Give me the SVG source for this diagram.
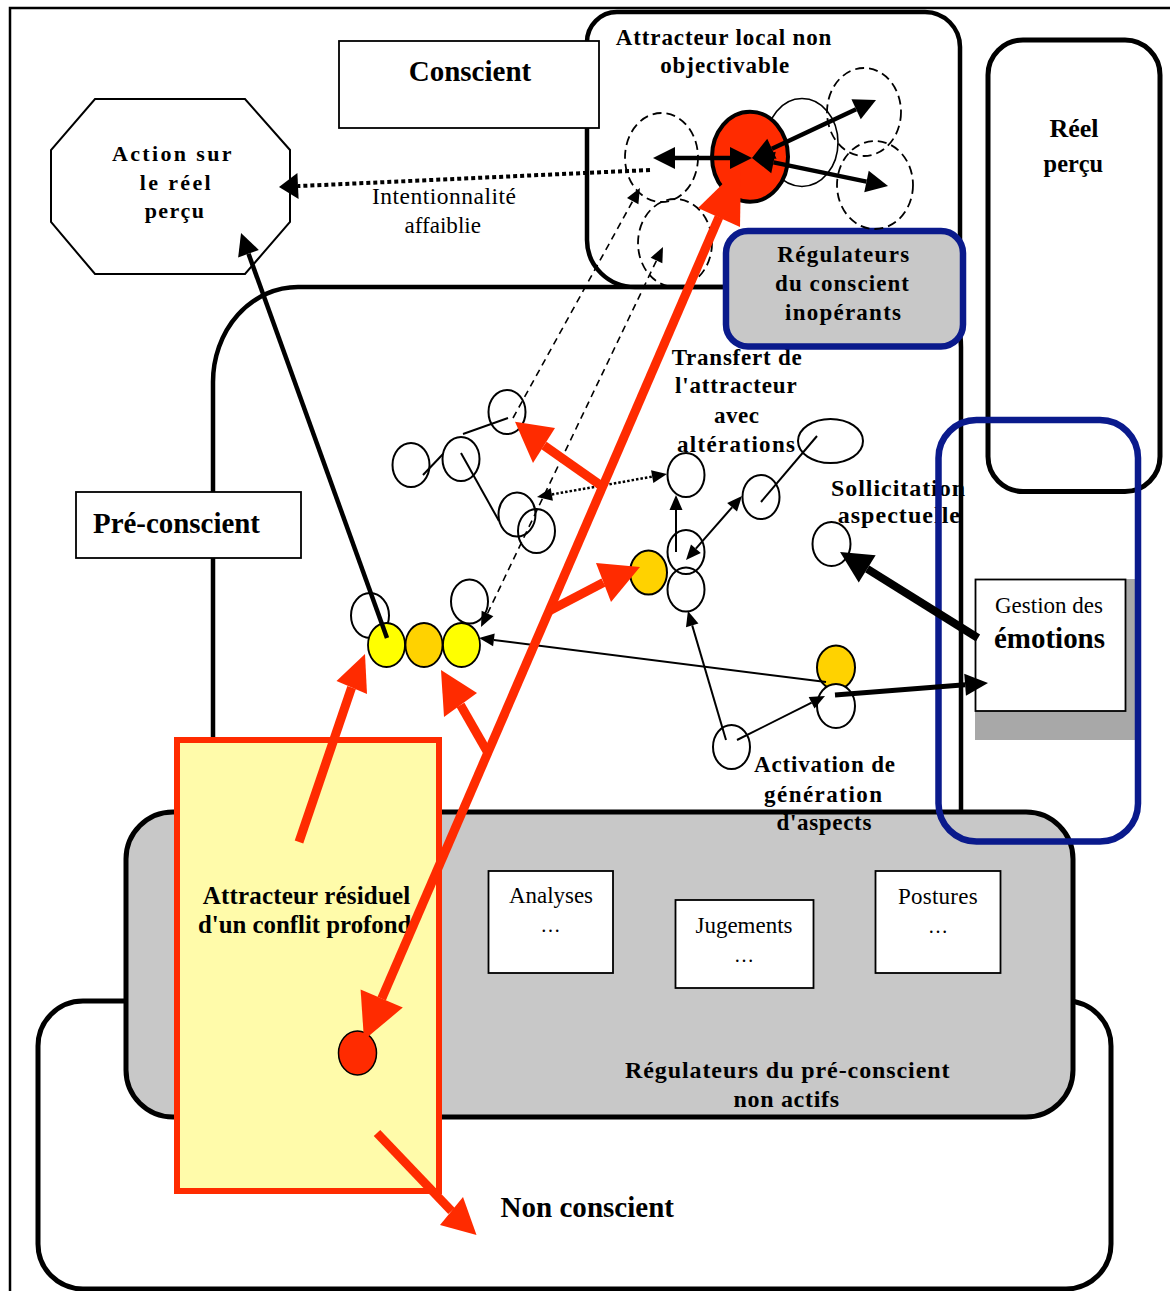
<svg xmlns="http://www.w3.org/2000/svg" width="1170" height="1291" viewBox="0 0 1170 1291">
<style>
  .frame{fill:none;stroke:#000;stroke-width:2.5}
  .zone{fill:none;stroke:#000;stroke-width:4.5}
  .box{fill:#fff;stroke:#000;stroke-width:1.8}
  .c{fill:none;stroke:#000;stroke-width:2}
  .cd{fill:none;stroke:#000;stroke-width:1.8;stroke-dasharray:9 5}
  .ln{fill:none;stroke:#000;stroke-width:2}
  .dl{fill:none;stroke:#000;stroke-width:1.6;stroke-dasharray:7 5}
  .rl{fill:none;stroke:#ff2b00;stroke-width:9}
  .rh{fill:#ff2b00;stroke:none}
  .blue{stroke:#0a1a8c;stroke-width:6.5}
  text{font-family:"Liberation Serif","Times New Roman",serif;fill:#000}
  .b{font-weight:bold}
</style>
<defs>
  <marker id="hThin" markerUnits="userSpaceOnUse" markerWidth="16" markerHeight="14" refX="0" refY="6.5" orient="auto-start-reverse" overflow="visible"><path d="M0,0 L15,6.5 L0,13 z" fill="#000"/></marker>
  <marker id="hMed" markerUnits="userSpaceOnUse" markerWidth="23" markerHeight="23" refX="0" refY="11" orient="auto-start-reverse" overflow="visible"><path d="M0,0 L22,11 L0,22 z" fill="#000"/></marker>
  <marker id="hDot" markerUnits="userSpaceOnUse" markerWidth="20" markerHeight="27" refX="0" refY="13" orient="auto" overflow="visible"><path d="M0,0 L19,13 L0,26 z" fill="#000"/></marker>
  <marker id="hGest" markerUnits="userSpaceOnUse" markerWidth="24" markerHeight="23" refX="0" refY="11" orient="auto" overflow="visible"><path d="M0,0 L23,11 L0,22 z" fill="#000"/></marker>
  <marker id="hBig" markerUnits="userSpaceOnUse" markerWidth="33" markerHeight="33" refX="0" refY="16" orient="auto" overflow="visible"><path d="M0,0 L32,16 L0,32 z" fill="#000"/></marker>
</defs>

<rect x="0" y="0" width="1170" height="1291" fill="#fff"/>
<path class="frame" d="M10,1291 V8 H1170"/>

<!-- large zones -->
<g id="non-conscient">
  <rect x="38" y="1001" width="1073" height="288" rx="45" fill="#fff" stroke="#000" stroke-width="5"/>
</g>
<g id="pre-conscient">
  <path class="zone" d="M213,812 V382 A85 95 0 0 1 298,287 H920 A41 60 0 0 1 961,347 V812"/>
</g>
<g id="conscient">
  <path class="zone" d="M617,12 H925 A35 35 0 0 1 960,47 V287 H635 A48 47 0 0 1 587,240 V42 A30 30 0 0 1 617,12 Z"/>
</g>
<g id="reel-percu">
  <rect x="988" y="40" width="172" height="451.5" rx="35" fill="none" stroke="#000" stroke-width="5"/>
  <text class="b" x="1049.6" y="136.7" font-size="26" textLength="49">Réel</text>
  <text class="b" x="1043.6" y="171.7" font-size="25" textLength="59.5" lengthAdjust="spacingAndGlyphs">perçu</text>
</g>

<!-- inactive pre-conscious regulators -->
<g id="regulateurs-preconscient">
  <rect x="126" y="812" width="947" height="305" rx="47" fill="#c8c8c8" stroke="#000" stroke-width="5"/>
  <text class="b" x="625" y="1077.7" font-size="24" textLength="324.5">Régulateurs du pré-conscient</text>
  <text class="b" x="733.5" y="1106.7" font-size="24" textLength="105.5">non actifs</text>
</g>
<g id="analyses">
  <rect class="box" x="488.5" y="871" width="124.5" height="102"/>
  <text x="509" y="903" font-size="23" textLength="84" lengthAdjust="spacingAndGlyphs">Analyses</text>
  <text x="550.5" y="932" font-size="20" text-anchor="middle">…</text>
</g>
<g id="jugements">
  <rect class="box" x="675.5" y="900" width="138" height="88"/>
  <text x="695.5" y="932.7" font-size="23" textLength="97" lengthAdjust="spacingAndGlyphs">Jugements</text>
  <text x="744" y="962" font-size="20" text-anchor="middle">…</text>
</g>
<g id="postures">
  <rect class="box" x="875.5" y="871" width="125" height="102"/>
  <text x="898" y="904" font-size="23" textLength="79.7">Postures</text>
  <text x="938" y="933" font-size="20" text-anchor="middle">…</text>
</g>

<!-- emotion management -->
<g id="gestion-emotions">
  <rect x="975" y="579" width="161" height="161" fill="#a8a8a8"/>
  <rect class="box" x="975.5" y="579.5" width="150" height="131.5"/>
  <text x="995" y="613" font-size="23" textLength="108" lengthAdjust="spacingAndGlyphs">Gestion des</text>
  <text class="b" x="994" y="648" font-size="29" textLength="111" lengthAdjust="spacingAndGlyphs">émotions</text>
</g>

<!-- residual attractor -->
<g id="attracteur-residuel">
  <rect x="177" y="740" width="262" height="451" fill="#fffbaa" stroke="#ff2b00" stroke-width="6"/>
  <text class="b" x="202.8" y="904" font-size="25" textLength="207.4">Attracteur résiduel</text>
  <text class="b" x="198" y="932.7" font-size="25" textLength="213.4" lengthAdjust="spacingAndGlyphs">d'un conflit profond</text>
  <ellipse cx="357.5" cy="1053" rx="19" ry="22" fill="#ff2b00" stroke="#000" stroke-width="1.5"/>
</g>

<!-- labels -->
<g id="label-conscient">
  <rect class="box" x="339" y="41" width="260" height="87"/>
  <text class="b" x="408.7" y="81" font-size="29" textLength="122.5">Conscient</text>
</g>
<g id="label-preconscient">
  <rect class="box" x="76" y="492" width="225" height="66"/>
  <text class="b" x="93" y="533" font-size="29" textLength="167" lengthAdjust="spacingAndGlyphs">Pré-conscient</text>
</g>
<g id="action-reel">
  <polygon points="95,99 245,99 290,150 290,222 245,274 95,274 51,222 51,150" fill="#fff" stroke="#000" stroke-width="2"/>
  <text class="b" x="112" y="161" font-size="22" textLength="119.5">Action sur</text>
  <text class="b" x="139.7" y="190" font-size="22" textLength="71">le réel</text>
  <text class="b" x="144.7" y="218" font-size="22" textLength="59.3">perçu</text>
</g>
<g id="intentionnalite">
  <text x="372" y="204" font-size="23.5" textLength="144">Intentionnalité</text>
  <text x="404.5" y="233" font-size="23.5" textLength="76.5" lengthAdjust="spacingAndGlyphs">affaiblie</text>
</g>
<g id="transfert">
  <text class="b" x="671.7" y="365" font-size="23" textLength="130">Transfert de</text>
  <text class="b" x="675" y="393.3" font-size="23" textLength="121.7">l'attracteur</text>
  <text class="b" x="714" y="422.7" font-size="23" textLength="45">avec</text>
  <text class="b" x="677" y="451.7" font-size="23" textLength="118">altérations</text>
</g>
<g id="sollicitation">
  <text class="b" x="831" y="495.7" font-size="24" textLength="134">Sollicitation</text>
  <text class="b" x="837.7" y="523" font-size="24" textLength="122.3">aspectuelle</text>
</g>
<g id="activation">
  <text class="b" x="754" y="772" font-size="23" textLength="141">Activation de</text>
  <text class="b" x="764" y="801.7" font-size="23" textLength="118">génération</text>
  <text class="b" x="776.4" y="830" font-size="23" textLength="95">d'aspects</text>
</g>
<g id="non-conscient-label">
  <text class="b" x="500.6" y="1216.7" font-size="29" textLength="173.4">Non conscient</text>
</g>

<!-- inoperative conscious regulators -->
<g id="regulateurs-conscient">
  <rect class="blue" x="726" y="231" width="237" height="115.5" rx="22" fill="#c8c8c8"/>
  <text class="b" x="777.2" y="261.7" font-size="23" textLength="132">Régulateurs</text>
  <text class="b" x="775" y="291" font-size="23" textLength="134">du conscient</text>
  <text class="b" x="785" y="320" font-size="23" textLength="116">inopérants</text>
</g>
<g id="cadre-emotions">
  <rect class="blue" x="938.5" y="420" width="199.5" height="421.5" rx="38" fill="none"/>
</g>

<!-- local attractor -->
<g id="attracteur-local">
  <text class="b" x="615.7" y="45" font-size="23" textLength="215.7">Attracteur local non</text>
  <text class="b" x="660.2" y="73.3" font-size="23" textLength="129">objectivable</text>
  <ellipse class="cd" cx="661.5" cy="157.5" rx="36.5" ry="44.5"/>
  <ellipse class="cd" cx="675" cy="243" rx="37" ry="44"/>
  <ellipse class="cd" cx="864" cy="112" rx="37" ry="44"/>
  <ellipse class="cd" cx="875" cy="185" rx="38" ry="44"/>
  <ellipse fill="none" stroke="#000" stroke-width="1.6" cx="802" cy="142.5" rx="36" ry="44"/>
  <ellipse cx="750" cy="156.7" rx="38" ry="45" fill="#ff2b00" stroke="#000" stroke-width="4"/>
</g>

<!-- aspect nodes -->
<g id="noeuds">
  <ellipse class="c" cx="507" cy="412" rx="18.5" ry="22"/>
  <ellipse class="c" cx="411" cy="465" rx="18.5" ry="22"/>
  <ellipse class="c" cx="461" cy="459" rx="18.5" ry="22"/>
  <ellipse class="c" cx="517" cy="514.5" rx="18.5" ry="22"/>
  <ellipse class="c" cx="536.5" cy="531" rx="18.5" ry="22"/>
  <ellipse class="c" cx="686" cy="475" rx="18.5" ry="22"/>
  <ellipse class="c" cx="761" cy="497" rx="18.5" ry="22"/>
  <ellipse class="c" cx="830.5" cy="441" rx="32.5" ry="22"/>
  <ellipse class="c" cx="686" cy="552" rx="18.5" ry="22"/>
  <ellipse class="c" cx="686" cy="589.5" rx="18.5" ry="22"/>
  <ellipse cx="648.5" cy="572.5" rx="18.5" ry="22" fill="#ffd200" stroke="#000" stroke-width="2"/>
  <ellipse class="c" cx="831.5" cy="544" rx="19" ry="22"/>
  <ellipse cx="836" cy="667.5" rx="19" ry="22" fill="#ffd200" stroke="#000" stroke-width="2"/>
  <ellipse cx="836" cy="706" rx="19" ry="22" fill="#fff" stroke="#000" stroke-width="2"/>
  <ellipse class="c" cx="731.5" cy="747" rx="18.5" ry="22"/>
  <ellipse class="c" cx="370" cy="615.5" rx="19" ry="22.5"/>
  <ellipse class="c" cx="469.5" cy="601.5" rx="18.5" ry="22"/>
  <ellipse cx="386.5" cy="645" rx="18.5" ry="22" fill="#ffff00" stroke="#000" stroke-width="1.8"/>
  <ellipse cx="424" cy="645" rx="18.5" ry="22" fill="#ffd200" stroke="#000" stroke-width="1.8"/>
  <ellipse cx="461.5" cy="645" rx="18.5" ry="22" fill="#ffff00" stroke="#000" stroke-width="1.8"/>
</g>

<g id="connecteurs">
  <!-- thin links between aspect nodes -->
  <line class="ln" x1="463" y1="434" x2="508" y2="418"/>
  <line class="ln" x1="423" y1="475" x2="443" y2="454"/>
  <line class="ln" x1="461" y1="453" x2="499" y2="521"/>
  <line class="ln" x1="761" y1="502" x2="817" y2="436"/>
  <line class="ln" x1="676" y1="552" x2="676" y2="510" marker-end="url(#hThin)"/>
  <line class="ln" x1="695.9" y1="548.7" x2="732.1" y2="507.3" marker-start="url(#hThin)" marker-end="url(#hThin)"/>
  <line class="ln" x1="726" y1="740" x2="692.2" y2="625.4" marker-end="url(#hThin)"/>
  <line class="ln" x1="737" y1="740" x2="811.6" y2="702.7" marker-end="url(#hThin)"/>
  <line class="ln" stroke-width="1.6" x1="826" y1="682" x2="493.9" y2="639.9" marker-end="url(#hThin)"/>
  <!-- dashed transfers towards the local attractor -->
  <line class="dl" x1="513" y1="418" x2="632.7" y2="201.1" marker-end="url(#hThin)"/>
  <line class="dl" x1="487.5" y1="613.5" x2="656.5" y2="260.5" marker-start="url(#hThin)" marker-end="url(#hThin)"/>
  <polyline fill="none" stroke="#000" stroke-width="2.5" stroke-dasharray="2.5 2" points="551.8,494.4 600,486 652.2,476.6" marker-start="url(#hThin)" marker-end="url(#hThin)"/>
  <!-- action on perceived reality -->
  <line stroke="#000" stroke-width="4.5" x1="387" y1="638" x2="248.5" y2="253.7" marker-end="url(#hMed)"/>
  <line stroke="#000" stroke-width="4" stroke-dasharray="4 3" x1="650" y1="170" x2="298" y2="186.1" marker-end="url(#hDot)"/>
  <!-- emotion management -->
  <line stroke="#000" stroke-width="5" x1="835" y1="695" x2="965.1" y2="684.8" marker-end="url(#hGest)"/>
  <line stroke="#000" stroke-width="8" x1="978" y1="638" x2="867.2" y2="568.9" marker-end="url(#hBig)"/>

  <!-- red attractor paths -->
  <line class="rl" x1="381.7" y1="998.6" x2="719" y2="217"/>
  <polygon class="rh" points="364,1040 360.6,989.6 402.8,1007.6"/>
  <polygon class="rh" points="741,166 698,208 740,227"/>
  <line class="rl" x1="603" y1="487" x2="544" y2="445.5"/>
  <polygon class="rh" points="515,421.7 555,428 533,463"/>
  <line class="rl" x1="549" y1="611" x2="603.5" y2="582.5"/>
  <polygon class="rh" points="640,567 596,563 611,602"/>
  <line class="rl" x1="488" y1="753" x2="460.5" y2="705"/>
  <polygon class="rh" points="441,670 444,717 477,693"/>
  <line class="rl" stroke-width="8" x1="299" y1="842" x2="351.6" y2="687.5"/>
  <polygon class="rh" points="365,654 336.5,681 367,694"/>
  <line class="rl" stroke-width="8" x1="377" y1="1133" x2="451.5" y2="1211"/>
  <polygon class="rh" points="476.5,1235 440,1225 463,1197"/>

  <!-- local attractor arrows -->
  <line stroke="#000" stroke-width="4.5" x1="675" y1="158" x2="730" y2="158" marker-start="url(#hMed)" marker-end="url(#hMed)"/>
  <line stroke="#000" stroke-width="4.5" x1="771.9" y1="148.7" x2="856.1" y2="109.3" marker-start="url(#hMed)" marker-end="url(#hMed)"/>
  <line stroke="#000" stroke-width="4.5" x1="773.5" y1="162.4" x2="866.5" y2="181.6" marker-start="url(#hMed)" marker-end="url(#hMed)"/>
</g>
</svg>
